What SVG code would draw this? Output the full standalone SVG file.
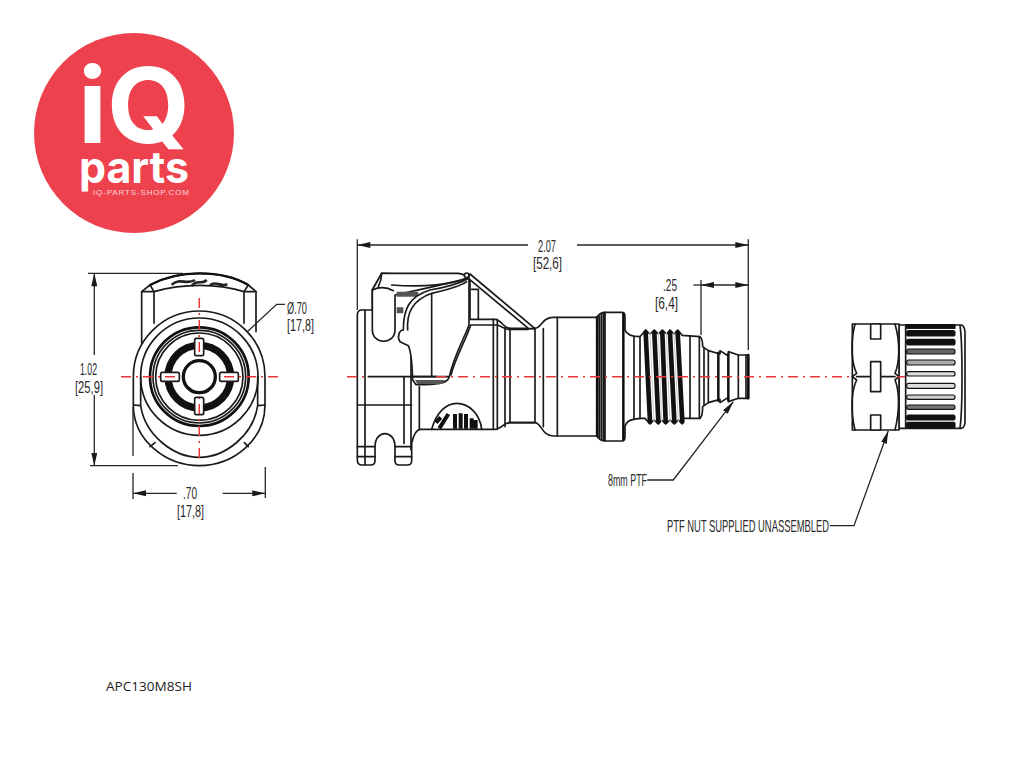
<svg xmlns="http://www.w3.org/2000/svg" width="1024" height="768" viewBox="0 0 1024 768">
<style>
.l{fill:none;stroke:#1a1a1a;stroke-width:5;stroke-linecap:round;stroke-linejoin:round}
.w{fill:#fff;stroke:#1a1a1a;stroke-width:5;stroke-linejoin:round}
.t{fill:none;stroke:#111;stroke-width:7.500;stroke-linecap:round;stroke-linejoin:round}
.k{fill:none;stroke:#111;stroke-width:14;stroke-linecap:round}
.c{fill:none;stroke:#e8343a;stroke-width:1.500;stroke-dasharray:10 5 2 5}
.d{fill:none;stroke:#262626;stroke-width:1.300}
.a{marker-end:url(#arr)}
.s{marker-start:url(#arrs)}
.x{font-family:"Liberation Sans",Arial,sans-serif;font-size:17px;fill:#2a2a2a}
.m{text-anchor:middle}
.lg{font-family:Inter,"Liberation Sans",sans-serif;font-weight:700;fill:#fff}
</style>
<defs>
<marker id="arr" markerUnits="userSpaceOnUse" markerWidth="14" markerHeight="8" refX="13" refY="3" orient="auto"><path d="M0 0L13 3L0 6Z" fill="#1a1a1a"/></marker>
<marker id="arrs" markerUnits="userSpaceOnUse" markerWidth="14" markerHeight="8" refX="0" refY="3" orient="auto"><path d="M13 0L0 3L13 6Z" fill="#1a1a1a"/></marker>
</defs>
<rect width="1024" height="768" fill="#fff"/>

<g id="logo">
<circle cx="134" cy="133" r="100" fill="#ee414e"/>
<text class="lg" x="78" y="143" font-size="105" textLength="112" lengthAdjust="spacingAndGlyphs">iQ</text>
<text class="lg" x="79" y="183" font-size="44" textLength="110" lengthAdjust="spacingAndGlyphs">parts</text>
<text x="93" y="195" font-family="'Liberation Sans',sans-serif" font-size="8" fill="#fbd5d8" textLength="96">IQ-PARTS-SHOP.COM</text>
</g>

<g id="front-view" transform="translate(70 260) scale(.33333)">
<path class="l" d="M215 250V95L240 75C290 48 340 40 388 40C436 40 490 48 535 75L558 95V215"/>
<path class="l" d="M215 95H252V190M558 95H522V190M240 75L252 95C340 70 440 70 522 95L535 75"/>
<path d="M240 75C290 48 340 40 388 40C436 40 490 48 535 75" fill="none" stroke="#111" stroke-width="7"/>
<path d="M305 74C330 52 350 76 375 60M365 78C380 56 395 76 410 60M420 76C435 60 450 82 472 73" fill="none" stroke="#222" stroke-width="8"/>
<path class="w" d="M190 350C190 240 280 153 388 153C496 153 585 240 585 350V435C585 540 490 617 388 617C286 617 190 540 190 435Z"/>
<path class="l" d="M212 437C225 525 310 592 388 592C466 592 550 525 563 437M190 435L212 437M585 435L563 437M240 560L255 548M535 560L523 548M212 350V437M563 350V437"/>
<circle class="l" cx="388" cy="350" r="176"/>
<circle cx="388" cy="350" r="148" fill="none" stroke="#111" stroke-width="8"/>
<circle class="l" cx="388" cy="350" r="139"/>
<circle class="l" cx="388" cy="350" r="131"/>
<circle cx="388" cy="350" r="94" fill="none" stroke="#111" stroke-width="22"/>
<rect class="w" x="374" y="235" width="27" height="52" rx="5"/>
<rect class="w" x="374" y="412" width="27" height="52" rx="5"/>
<rect class="w" x="272" y="337" width="56" height="27" rx="5"/>
<rect class="w" x="449" y="337" width="56" height="27" rx="5"/>
<circle cx="388" cy="350" r="48" fill="#fff" stroke="#111" stroke-width="10"/>
</g>

<g id="side-body" transform="translate(340 230) scale(.33333)">
<path class="w" d="M100 240H66Q52 240 52 255V690Q52 705 66 705H92Q105 705 105 692V650C105 598 165 598 165 650V692Q165 705 178 705H202Q215 705 215 692V640C222 610 232 598 242 598H465C482 598 492 578 510 578H585C604 578 606 618 640 618H780V262H640C606 262 604 295 585 295H510C492 295 482 268 465 268H390V140L125 130L97 180V240Z"/>
<path class="l" d="M75 240V705M52 525H215M52 650H105M165 650H215M52 680H105M165 680H215M192 440V640M213 330V660M238 470V598M460 268V598M472 268V598M495 292V590M510 295V578M585 295V578M610 296V590M652 262V618M505 578H585"/>
<path class="l" d="M395 178H415V268M395 285H470C482 285 490 298 505 298H565"/>
<path class="w" d="M385 145L566 296H585L390 132Z"/>
<path class="w" d="M97 180L125 130H355C370 132 380 135 385 145L270 172L165 195V300C165 345 97 345 97 300Z"/>
<path class="l" d="M97 180Q130 165 160 182M125 130C125 150 120 160 115 170M155 165C250 172 340 165 385 142"/>
<path d="M170 185H235V200H170ZM170 232H190V250H170Z" fill="#555"/>
<path class="w" d="M190 300C190 240 205 200 270 180C320 172 360 160 387 145V285C375 320 340 380 328 440C322 462 290 464 228 464L218 450C216 410 216 370 205 347L180 335C170 320 178 300 190 300Z"/>
<path class="l" d="M203 300C200 250 215 212 275 190C320 180 360 170 380 155M275 190V440M218 440H325"/>
<path d="M225 450H315L305 462H232Z" fill="#555"/>
<path class="l" d="M392 285C382 320 345 385 333 435"/>
<path class="l" d="M275 598C290 545 320 520 350 520C385 520 420 550 425 598"/>
<path d="M288 578L302 562M298 595L325 552M345 552V596M362 550V596M378 552V596M395 565V596M407 570V596" fill="none" stroke="#111" stroke-width="12"/>
<circle class="w" cx="380" cy="136" r="7"/>
<path d="M85 440H290" class="l"/>
</g>

<g id="side-tail" transform="translate(560 230) scale(.33333)">
<path class="w" d="M110 262C115 255 125 247 135 247H185Q195 247 195 260V300C200 315 215 320 240 320L257 300L270 312L283 300L295 312L307 300L320 312L330 300L342 312L353 300L367 316L420 320C426 325 428 335 428 350L445 362L480 372V362L505 378V365L535 375H565V505H535L505 515V502L480 518V508L445 518L428 530C428 550 426 560 420 565H367L367 582L355 570L343 582L330 570L317 582L305 570L295 582L282 570L270 582L255 565H240C215 568 200 570 195 590V620Q195 633 185 633H135C125 633 115 625 110 618Z"/>
<path class="l" d="M135 247V633M118 258V622M124 252V628M130 250V630M222 320V565M240 320V565M390 318V565M418 320V565M432 355V525M445 362V518M535 375V505M558 375V505"/>
<path class="t" d="M190 250V630M112 262V618M475 368V512M505 372V510M565 375V505"/>
<path class="k" d="M257 308L270 575M283 308L295 575M307 308L317 575M330 308L343 575M353 308L367 575"/>
<path d="M270 305L282 578M295 305L305 578M319 305L330 578M342 305L355 578" fill="none" stroke="#ccc" stroke-width="3"/>
</g>

<g id="nut" transform="translate(660 310) scale(.33333)">
<path class="w" d="M717 45H905Q915 50 915 70V335Q915 350 905 355H717Z"/>
<path class="l" d="M900 47C908 100 908 300 900 353M737 45V355"/>
<g stroke="#111" stroke-width="3.500">
<rect x="740" y="44" width="145" height="11" fill="#111"/>
<rect x="740" y="62" width="145" height="16" rx="6" fill="#111"/>
<rect x="740" y="88" width="145" height="17" rx="6" fill="#111"/>
<rect x="740" y="117" width="145" height="15" rx="6" fill="#666"/>
<rect x="740" y="150" width="145" height="15" rx="6" fill="#aaa"/>
<rect x="740" y="185" width="145" height="13" rx="6" fill="#ddd"/>
<rect x="740" y="220" width="145" height="15" rx="6" fill="#ddd"/>
<rect x="740" y="255" width="145" height="13" rx="6" fill="#ccc"/>
<rect x="740" y="285" width="145" height="13" rx="6" fill="#777"/>
<rect x="740" y="315" width="145" height="15" rx="6" fill="#111"/>
<rect x="740" y="337" width="145" height="16" rx="4" fill="#111"/>
</g>
<rect class="w" x="577" y="42" width="140" height="318"/>
<path class="l" d="M585 42C570 100 575 160 590 190L577 200L590 210C575 240 570 300 585 360M705 42C722 100 718 160 705 190L717 200L705 210C718 240 720 300 705 360M590 200H705"/>
<rect class="w" x="632" y="42" width="30" height="45"/>
<rect class="w" x="632" y="155" width="30" height="90"/>
<rect class="w" x="632" y="315" width="30" height="45"/>
</g>

<g id="centerlines">
<path class="c" d="M121 376.700H178M278 376.700H220"/>
<path class="c" d="M199.300 298V356M199.300 458V398"/>
<path class="c" d="M347 376.700H368M436 376.700H852M897 376.700H905"/>
</g>

<g id="connectors">
<path class="d" d="M88 273.300H183M90 465.700H178"/>
<path class="d s" d="M94.300 273.300V355"/>
<path class="d a" d="M94.300 395V465.700"/>
<path class="d" d="M133 407V456M133 473V499M265.300 467V498"/>
<path class="d s" d="M133 493.300H176.700"/>
<path class="d a" d="M222.700 493.300H265.300"/>
<path class="d" d="M247.300 331.700L276.700 304.300H285"/>
<path class="d" d="M357.300 239.300V310M748.300 239.300V350M701 280V335"/>
<path class="d s" d="M357.300 245H528"/>
<path class="d a" d="M577 245H748.300"/>
<path class="d" d="M693.300 285H701"/>
<path class="d s a" d="M701 285H748.300"/>
<path class="d a" d="M647.300 480H673.300L733.300 401.700"/>
<path class="d a" d="M830 525.700H854L888.300 430.700"/>
</g>

<g id="labels">
<text class="x m" x="88.500" y="375" textLength="17" lengthAdjust="spacingAndGlyphs">1.02</text>
<text class="x m" x="89" y="393" textLength="28" lengthAdjust="spacingAndGlyphs">[25,9]</text>
<text class="x m" x="190" y="499" textLength="14" lengthAdjust="spacingAndGlyphs">.70</text>
<text class="x m" x="190.500" y="516.500" textLength="27" lengthAdjust="spacingAndGlyphs">[17,8]</text>
<text class="x" x="287" y="314" textLength="20" lengthAdjust="spacingAndGlyphs">Ø.70</text>
<text class="x" x="287" y="331" textLength="27" lengthAdjust="spacingAndGlyphs">[17,8]</text>
<text class="x m" x="547" y="252" textLength="18" lengthAdjust="spacingAndGlyphs">2.07</text>
<text class="x m" x="547.500" y="269" textLength="29" lengthAdjust="spacingAndGlyphs">[52,6]</text>
<text class="x" x="663" y="291" textLength="14" lengthAdjust="spacingAndGlyphs">.25</text>
<text class="x" x="655" y="309" textLength="23" lengthAdjust="spacingAndGlyphs">[6,4]</text>
<text class="x" x="608" y="486" textLength="39" lengthAdjust="spacingAndGlyphs" style="font-size:16px">8mm PTF</text>
<text class="x" x="667" y="532" textLength="162" lengthAdjust="spacingAndGlyphs">PTF NUT SUPPLIED UNASSEMBLED</text>
<text x="106" y="691" font-family="'Open Sans',sans-serif" font-size="13.500" fill="#222" textLength="86" lengthAdjust="spacingAndGlyphs">APC130M8SH</text>
</g>
</svg>
